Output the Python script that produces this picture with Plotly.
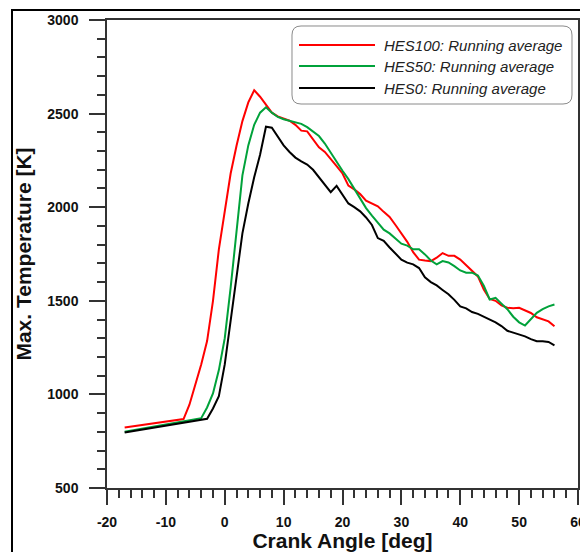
import plotly.graph_objects as go

# ---------------- data ----------------
angle_hes100 = [-17, -7, -6, -5, -4, -3, -2, -1, 0, 1, 2, 3, 4, 5, 6, 7, 8, 9, 10,
                11, 12, 13, 14, 15, 16, 17, 18, 19, 20, 21, 22, 23, 24, 25, 26, 27,
                28, 29, 30, 31, 32, 33, 34, 35, 36, 37, 38, 39, 40, 41, 42, 43, 44,
                45, 46, 47, 48, 49, 50, 51, 52, 53, 54, 55, 56]
temp_hes100 = [823, 868, 945, 1050, 1160, 1285, 1500, 1775, 1980, 2180, 2328, 2460,
               2560, 2625, 2590, 2545, 2505, 2485, 2475, 2462, 2440, 2409, 2405, 2360,
               2320, 2295, 2260, 2220, 2180, 2115, 2095, 2070, 2035, 2018, 2005, 1975,
               1948, 1905, 1860, 1815, 1760, 1720, 1715, 1712, 1730, 1755, 1740, 1740,
               1720, 1690, 1660, 1630, 1560, 1510, 1500, 1475, 1463, 1460, 1463, 1450,
               1435, 1412, 1400, 1390, 1364]

angle_hes50 = [-17, -4, -3, -2, -1, 0, 1, 2, 3, 4, 5, 6, 7, 8, 9, 10, 11, 12, 13,
               14, 15, 16, 17, 18, 19, 20, 21, 22, 23, 24, 25, 26, 27, 28, 29, 30,
               31, 32, 33, 34, 35, 36, 37, 38, 39, 40, 41, 42, 43, 44, 45, 46, 47,
               48, 49, 50, 51, 52, 53, 54, 55, 56]
temp_hes50 = [800, 873, 930, 1005, 1130, 1300, 1570, 1860, 2170, 2330, 2440, 2505,
              2534, 2505, 2482, 2470, 2462, 2452, 2445, 2428, 2405, 2380, 2340, 2290,
              2245, 2195, 2150, 2100, 2050, 1995, 1955, 1915, 1880, 1860, 1835, 1805,
              1795, 1775, 1775, 1748, 1715, 1695, 1712, 1705, 1685, 1662, 1650, 1650,
              1635, 1580, 1507, 1516, 1485, 1455, 1415, 1385, 1368, 1400, 1436, 1455,
              1470, 1480]

angle_hes0 = [-17, -3, -2, -1, 0, 1, 2, 3, 4, 5, 6, 7, 8, 9, 10, 11, 12, 13, 14,
              15, 16, 17, 18, 19, 20, 21, 22, 23, 24, 25, 26, 27, 28, 29, 30, 31,
              32, 33, 34, 35, 36, 37, 38, 39, 40, 41, 42, 43, 44, 45, 46, 47, 48,
              49, 50, 51, 52, 53, 54, 55, 56]
temp_hes0 = [796, 870, 925, 990, 1160, 1400, 1615, 1860, 2020, 2160, 2280, 2430,
             2425, 2380, 2330, 2295, 2265, 2245, 2228, 2200, 2160, 2120, 2080, 2114,
             2070, 2020, 2000, 1978, 1945, 1905, 1835, 1820, 1785, 1752, 1720, 1704,
             1695, 1675, 1625, 1600, 1582, 1558, 1535, 1505, 1470, 1460, 1440, 1430,
             1415, 1402, 1385, 1365, 1340, 1330, 1320, 1310, 1295, 1284, 1284, 1280,
             1262]

series_names = ["HES100: Running average", "HES50: Running average", "HES0: Running average"]
series_colors = ["#ff0000", "#00a23a", "#000000"]

x_title = "Crank Angle [deg]"
y_title = "Max. Temperature [K]"
x_range = [-20, 60]
y_range = [500, 3000]
x_tickvals = [-20, -10, 0, 10, 20, 30, 40, 50, 60]
x_ticktext = ["-20", "-10", "0", "10", "20", "30", "40", "50", "60"]
y_tickvals = [500, 1000, 1500, 2000, 2500, 3000]
y_ticktext = ["500", "1000", "1500", "2000", "2500", "3000"]

# ---------------- layout geometry (pixels) ----------------
W, H = 580, 552
L, R, T, B = 107, 578, 20, 488


def pxx(x):
    return (x - L) / (R - L)


def pxy(y):
    return (B - y) / (B - T)


fig = go.Figure()
series = [(angle_hes100, temp_hes100), (angle_hes50, temp_hes50), (angle_hes0, temp_hes0)]
for (xs, ys), name, color in zip(series, series_names, series_colors):
    fig.add_trace(go.Scatter(x=xs, y=ys, mode="lines", name=name,
                             line=dict(color=color, width=2), showlegend=False))

axis_color = "#333333"
tick_font = dict(family="Liberation Sans, Arial", size=14, color="#111111", weight="bold")
title_font = dict(family="Liberation Sans, Arial", size=21, color="#111111", weight="bold")

fig.update_xaxes(range=x_range, tickmode="array", tickvals=x_tickvals, ticktext=x_ticktext,
                 showgrid=False, zeroline=False, automargin=False,
                 showline=True, linecolor=axis_color, linewidth=1.5, mirror=True,
                 ticks="outside", ticklen=15, tickwidth=1.5, tickcolor=axis_color,
                 minor=dict(ticks="outside", dtick=2, tick0=0, ticklen=8, tickwidth=1.5,
                            tickcolor=axis_color, showgrid=False),
                 tickfont=tick_font, ticklabelstandoff=5, ticklabeloverflow="allow",
                 title=dict(text=x_title, font=title_font, standoff=4))
fig.update_yaxes(range=y_range, tickmode="array", tickvals=y_tickvals, ticktext=y_ticktext,
                 showgrid=False, zeroline=False, automargin=False,
                 showline=True, linecolor=axis_color, linewidth=1.5, mirror=True,
                 ticks="outside", ticklen=16, tickwidth=1.5, tickcolor=axis_color,
                 minor=dict(ticks="outside", dtick=100, tick0=0, ticklen=8, tickwidth=1.5,
                            tickcolor=axis_color, showgrid=False),
                 tickfont=tick_font, ticklabelstandoff=8, ticklabeloverflow="allow",
                 title=dict(text=y_title, font=title_font, standoff=10))

shapes = []
# outer frame
shapes.append(dict(type="rect", xref="paper", yref="paper",
                   x0=pxx(12), x1=pxx(582), y0=pxy(556), y1=pxy(10),
                   line=dict(color="#000000", width=2), fillcolor="rgba(0,0,0,0)"))

# rounded legend box
bx0, bx1, by0, by1, rr = 292, 572, 26, 104, 9


def P(x, y):
    return f"{pxx(x):.5f},{pxy(y):.5f}"


path = (f"M {P(bx0 + rr, by0)} L {P(bx1 - rr, by0)} Q {P(bx1, by0)} {P(bx1, by0 + rr)} "
        f"L {P(bx1, by1 - rr)} Q {P(bx1, by1)} {P(bx1 - rr, by1)} "
        f"L {P(bx0 + rr, by1)} Q {P(bx0, by1)} {P(bx0, by1 - rr)} "
        f"L {P(bx0, by0 + rr)} Q {P(bx0, by0)} {P(bx0 + rr, by0)} Z")
shapes.append(dict(type="path", xref="paper", yref="paper", path=path,
                   line=dict(color="#8a8a8a", width=1), fillcolor="white", layer="above"))

annotations = []
row_y = [45, 66, 88]
for name, color, yy in zip(series_names, series_colors, row_y):
    shapes.append(dict(type="line", xref="paper", yref="paper",
                       x0=pxx(299), x1=pxx(375), y0=pxy(yy), y1=pxy(yy),
                       line=dict(color=color, width=2), layer="above"))
    annotations.append(dict(xref="paper", yref="paper", x=pxx(382), y=pxy(yy),
                            xanchor="left", yanchor="middle", showarrow=False,
                            text=name,
                            font=dict(family="Liberation Sans, Arial", size=15,
                                      style="italic", color="#222222")))

fig.update_layout(width=W, height=H, margin=dict(l=L, r=W - R, t=T, b=H - B),
                  paper_bgcolor="white", plot_bgcolor="white",
                  shapes=shapes, annotations=annotations, showlegend=False)

fig.write_html("out.html")
